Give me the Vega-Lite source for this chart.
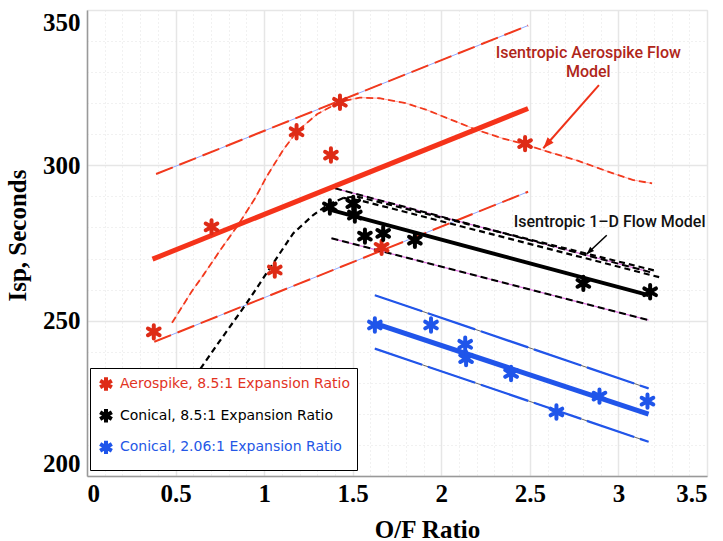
{
  "$schema": "https://vega.github.io/schema/vega-lite/v6.json",
  "width": 620,
  "height": 466,
  "autosize": {"type": "none"},
  "padding": {"left": 87, "top": 10, "right": 16, "bottom": 65},
  "background": "white",
  "config": {
    "view": {"stroke": "#e2e2e2", "strokeWidth": 1}
  },
  "datasets": {
    "pts": [
      {"series": "Aerospike, 8.5:1 Expansion Ratio", "of": 0.377, "isp": 246.4},
      {"series": "Aerospike, 8.5:1 Expansion Ratio", "of": 0.703, "isp": 280.2},
      {"series": "Aerospike, 8.5:1 Expansion Ratio", "of": 1.06, "isp": 266.3},
      {"series": "Aerospike, 8.5:1 Expansion Ratio", "of": 1.183, "isp": 310.8},
      {"series": "Aerospike, 8.5:1 Expansion Ratio", "of": 1.377, "isp": 303.3},
      {"series": "Aerospike, 8.5:1 Expansion Ratio", "of": 1.428, "isp": 320.3},
      {"series": "Aerospike, 8.5:1 Expansion Ratio", "of": 1.663, "isp": 273.6},
      {"series": "Aerospike, 8.5:1 Expansion Ratio", "of": 2.473, "isp": 307.0},
      {"series": "Conical, 8.5:1 Expansion Ratio", "of": 1.371, "isp": 286.6},
      {"series": "Conical, 8.5:1 Expansion Ratio", "of": 1.503, "isp": 287.7},
      {"series": "Conical, 8.5:1 Expansion Ratio", "of": 1.512, "isp": 284.0},
      {"series": "Conical, 8.5:1 Expansion Ratio", "of": 1.569, "isp": 277.2},
      {"series": "Conical, 8.5:1 Expansion Ratio", "of": 1.672, "isp": 278.1},
      {"series": "Conical, 8.5:1 Expansion Ratio", "of": 1.851, "isp": 275.9},
      {"series": "Conical, 8.5:1 Expansion Ratio", "of": 2.802, "isp": 262.0},
      {"series": "Conical, 8.5:1 Expansion Ratio", "of": 3.179, "isp": 259.3},
      {"series": "Conical, 2.06:1 Expansion Ratio", "of": 1.625, "isp": 248.6},
      {"series": "Conical, 2.06:1 Expansion Ratio", "of": 1.942, "isp": 248.6},
      {"series": "Conical, 2.06:1 Expansion Ratio", "of": 2.135, "isp": 242.4},
      {"series": "Conical, 2.06:1 Expansion Ratio", "of": 2.14, "isp": 237.8},
      {"series": "Conical, 2.06:1 Expansion Ratio", "of": 2.394, "isp": 233.0},
      {"series": "Conical, 2.06:1 Expansion Ratio", "of": 2.65, "isp": 220.6},
      {"series": "Conical, 2.06:1 Expansion Ratio", "of": 2.893, "isp": 225.7},
      {"series": "Conical, 2.06:1 Expansion Ratio", "of": 3.164, "isp": 224.1}
    ],
    "lines": [
      {"id": "aero_fit", "of": 0.37, "isp": 269.8},
      {"id": "aero_fit", "of": 2.49, "isp": 318.3},
      {"id": "aero_up", "of": 0.39, "isp": 297.2},
      {"id": "aero_up", "of": 2.49, "isp": 345.0},
      {"id": "aero_lo", "of": 0.38, "isp": 243.2},
      {"id": "aero_lo", "of": 2.49, "isp": 291.5},
      {"id": "c85_fit", "of": 1.38, "isp": 285.6},
      {"id": "c85_fit", "of": 3.17, "isp": 258.2},
      {"id": "c85_up", "of": 1.40, "isp": 292.6},
      {"id": "c85_up", "of": 3.18, "isp": 265.6},
      {"id": "c85_lo", "of": 1.38, "isp": 276.5},
      {"id": "c85_lo", "of": 3.17, "isp": 250.2},
      {"id": "c206_fit", "of": 1.625, "isp": 249.1},
      {"id": "c206_fit", "of": 3.17, "isp": 219.9},
      {"id": "c206_up", "of": 1.625, "isp": 258.2},
      {"id": "c206_up", "of": 3.17, "isp": 228.2},
      {"id": "c206_lo", "of": 1.625, "isp": 241.0},
      {"id": "c206_lo", "of": 3.17, "isp": 211.0},
      {"id": "aero_model", "of": 0.48, "isp": 249.3},
      {"id": "aero_model", "of": 0.59, "isp": 259.3},
      {"id": "aero_model", "of": 0.655, "isp": 264.5},
      {"id": "aero_model", "of": 0.75, "isp": 272.5},
      {"id": "aero_model", "of": 0.853, "isp": 280.8},
      {"id": "aero_model", "of": 0.95, "isp": 289.5},
      {"id": "aero_model", "of": 1.013, "isp": 296.3},
      {"id": "aero_model", "of": 1.107, "isp": 304.9},
      {"id": "aero_model", "of": 1.183, "isp": 310.8},
      {"id": "aero_model", "of": 1.3, "isp": 316.5},
      {"id": "aero_model", "of": 1.43, "isp": 320.5},
      {"id": "aero_model", "of": 1.54, "isp": 321.8},
      {"id": "aero_model", "of": 1.65, "isp": 321.6},
      {"id": "aero_model", "of": 1.8, "isp": 320.0},
      {"id": "aero_model", "of": 1.92, "isp": 317.8},
      {"id": "aero_model", "of": 2.05, "isp": 314.8},
      {"id": "aero_model", "of": 2.2, "isp": 311.4},
      {"id": "aero_model", "of": 2.35, "isp": 308.6},
      {"id": "aero_model", "of": 2.47, "isp": 306.8},
      {"id": "aero_model", "of": 2.6, "isp": 304.4},
      {"id": "aero_model", "of": 2.77, "isp": 301.5},
      {"id": "aero_model", "of": 2.97, "isp": 297.4},
      {"id": "aero_model", "of": 3.08, "isp": 295.3},
      {"id": "aero_model", "of": 3.19, "isp": 294.2},
      {"id": "cone_model1", "of": 0.64, "isp": 234.5},
      {"id": "cone_model1", "of": 0.75, "isp": 243.5},
      {"id": "cone_model1", "of": 0.9, "isp": 255.5},
      {"id": "cone_model1", "of": 1.05, "isp": 268.4},
      {"id": "cone_model1", "of": 1.164, "isp": 278.1},
      {"id": "cone_model1", "of": 1.277, "isp": 284.0},
      {"id": "cone_model1", "of": 1.36, "isp": 287.3},
      {"id": "cone_model1", "of": 1.446, "isp": 289.5},
      {"id": "cone_model1", "of": 1.52, "isp": 290.0},
      {"id": "cone_model1", "of": 3.2, "isp": 266.2},
      {"id": "cone_model2", "of": 1.446, "isp": 289.5},
      {"id": "cone_model2", "of": 1.55, "isp": 288.6},
      {"id": "cone_model2", "of": 3.23, "isp": 264.0}
    ],
    "notes": [
      {"kind": "aero", "label": "Isentropic Aerospike Flow\nModel", "of": 2.83, "isp": 334.4},
      {"kind": "cone", "label": "Isentropic 1–D Flow Model", "of": 2.95, "isp": 280.2}
    ],
    "arrows": [
      {"kind": "aero", "of": 2.89, "isp": 325.8, "of2": 2.576, "isp2": 305.5},
      {"kind": "cone", "of": 2.934, "isp": 277.5, "of2": 2.82, "isp2": 271.4}
    ]
  },
  "encoding": {
    "x": {
      "field": "of", "type": "quantitative",
      "scale": {"domain": [0, 3.5], "nice": false, "zero": false},
      "axis": {
        "title": "O/F Ratio",
        "values": [0,0.1,0.2,0.3,0.4,0.5,0.6,0.7,0.8,0.9,1,1.1,1.2,1.3,1.4,1.5,1.6,1.7,1.8,1.9,2,2.1,2.2,2.3,2.4,2.5,2.6,2.7,2.8,2.9,3,3.1,3.2,3.3,3.4,3.5],
        "format": "~g",
        "labelExpr": "abs(datum.value*2-round(datum.value*2))<0.001 ? datum.label : ''",
        "labelOverlap": false,
        "labelFont": "Liberation Serif", "labelFontWeight": "bold", "labelFontSize": 25, "labelColor": "black",
        "labelPadding": 5,
        "ticks": false,
        "domainColor": "#999999", "domainWidth": 1.5,
        "grid": true,
        "gridColor": {"condition": {"test": "abs(datum.value*2-round(datum.value*2))<0.001", "value": "#e6e6e6"}, "value": "#e2e2e2"},
        "gridDash": {"condition": {"test": "abs(datum.value*2-round(datum.value*2))<0.001", "value": []}, "value": [1, 3]},
        "gridWidth": {"condition": {"test": "abs(datum.value*2-round(datum.value*2))<0.001", "value": 1.5}, "value": 1},
        "titleFont": "Liberation Serif", "titleFontWeight": "bold", "titleFontSize": 25, "titleColor": "black",
        "titleX": 340, "titleY": 61, "titleBaseline": "alphabetic", "titleAlign": "center"
      }
    },
    "y": {
      "field": "isp", "type": "quantitative",
      "scale": {"domain": [200, 350], "nice": false, "zero": false},
      "axis": {
        "title": "Isp, Seconds",
        "values": [200,210,220,230,240,250,260,270,280,290,300,310,320,330,340,350],
        "labelExpr": "datum.value % 50 === 0 ? datum.label : ''",
        "labelOverlap": false,
        "labelFlush": true,
        "labelFont": "Liberation Serif", "labelFontWeight": "bold", "labelFontSize": 25, "labelColor": "black",
        "labelPadding": 7,
        "ticks": false,
        "domainColor": "#999999", "domainWidth": 1.5,
        "grid": true,
        "gridColor": {"condition": {"test": "datum.value % 50 === 0", "value": "#e6e6e6"}, "value": "#e2e2e2"},
        "gridDash": {"condition": {"test": "datum.value % 50 === 0", "value": []}, "value": [1, 3]},
        "gridWidth": {"condition": {"test": "datum.value % 50 === 0", "value": 1.5}, "value": 1},
        "titleFont": "Liberation Serif", "titleFontWeight": "bold", "titleFontSize": 25, "titleColor": "black",
        "titleX": -62, "titleY": 225, "titleAngle": 270, "titleBaseline": "alphabetic", "titleAlign": "center"
      }
    }
  },
  "layer": [
    {
      "data": {"name": "lines"},
      "transform": [{"filter": {"field": "id", "oneOf": ["aero_up", "aero_lo"]}}],
      "mark": {"type": "line", "color": "#8fa6ff", "strokeWidth": 1},
      "encoding": {"detail": {"field": "id"}}
    },
    {
      "data": {"name": "lines"},
      "transform": [{"filter": {"field": "id", "oneOf": ["aero_up", "aero_lo"]}}],
      "mark": {"type": "line", "color": "#f2391c", "strokeWidth": 2, "strokeDash": [18, 7]},
      "encoding": {"detail": {"field": "id"}}
    },
    {
      "data": {"name": "lines"},
      "transform": [{"filter": {"field": "id", "oneOf": ["c85_up", "c85_lo"]}}],
      "mark": {"type": "line", "color": "#e070e0", "strokeWidth": 1.2},
      "encoding": {"detail": {"field": "id"}}
    },
    {
      "data": {"name": "lines"},
      "transform": [{"filter": {"field": "id", "oneOf": ["c85_up", "c85_lo"]}}],
      "mark": {"type": "line", "color": "#000000", "strokeWidth": 2, "strokeDash": [7, 4]},
      "encoding": {"detail": {"field": "id"}}
    },
    {
      "data": {"name": "lines"},
      "transform": [{"filter": {"field": "id", "oneOf": ["c206_up", "c206_lo"]}}],
      "mark": {"type": "line", "color": "#666666", "strokeWidth": 1},
      "encoding": {"detail": {"field": "id"}}
    },
    {
      "data": {"name": "lines"},
      "transform": [{"filter": {"field": "id", "oneOf": ["c206_up", "c206_lo"]}}],
      "mark": {"type": "line", "color": "#2155ea", "strokeWidth": 2.2, "strokeDash": [50, 6]},
      "encoding": {"detail": {"field": "id"}}
    },
    {
      "data": {"name": "lines"},
      "transform": [{"filter": {"field": "id", "equal": "aero_model"}}],
      "mark": {"type": "line", "color": "#ffb0b0", "strokeWidth": 1},
      "encoding": {}
    },
    {
      "data": {"name": "lines"},
      "transform": [{"filter": {"field": "id", "equal": "aero_model"}}],
      "mark": {"type": "line", "color": "#f2391c", "strokeWidth": 1.8, "strokeDash": [7, 4]},
      "encoding": {}
    },
    {
      "data": {"name": "lines"},
      "transform": [{"filter": {"field": "id", "oneOf": ["cone_model1", "cone_model2"]}}],
      "mark": {"type": "line", "color": "#000000", "strokeWidth": 2.2, "strokeDash": [6, 4]},
      "encoding": {"detail": {"field": "id"}}
    },
    {
      "data": {"name": "lines"},
      "transform": [{"filter": {"field": "id", "equal": "aero_fit"}}],
      "mark": {"type": "line", "color": "#f5331a", "strokeWidth": 5},
      "encoding": {}
    },
    {
      "data": {"name": "lines"},
      "transform": [{"filter": {"field": "id", "equal": "c85_fit"}}],
      "mark": {"type": "line", "color": "#000000", "strokeWidth": 4},
      "encoding": {}
    },
    {
      "data": {"name": "lines"},
      "transform": [{"filter": {"field": "id", "equal": "c206_fit"}}],
      "mark": {"type": "line", "color": "#2155ea", "strokeWidth": 5},
      "encoding": {}
    },
    {
      "data": {"name": "pts"},
      "mark": {"type": "point", "shape": "M0,-1L0,1M-0.87,-0.5L0.87,0.5M-0.87,0.5L0.87,-0.5", "filled": false, "strokeWidth": 4, "strokeCap": "round", "size": 180, "opacity": 1},
      "encoding": {
        "color": {
          "field": "series", "type": "nominal",
          "scale": {
            "domain": ["Aerospike, 8.5:1 Expansion Ratio", "Conical, 8.5:1 Expansion Ratio", "Conical, 2.06:1 Expansion Ratio"],
            "range": ["#de2b16", "#000000", "#1f55ea"]
          },
          "legend": {
            "title": null,
            "orient": "none",
            "legendX": 3,
            "legendY": 358,
            "direction": "vertical",
            "fillColor": "white",
            "strokeColor": "black",
            "padding": 7,
            "rowPadding": 1.7,
            "symbolType": "M0,-1L0,1M-0.87,-0.5L0.87,0.5M-0.87,0.5L0.87,-0.5",
            "symbolSize": 180,
            "symbolStrokeWidth": 4,
            "labelFont": "DejaVu Sans",
            "labelFontSize": 14,
            "labelOffset": 5,
            "labelLimit": 400,
            "labelColor": {"expr": "datum.value === 'Aerospike, 8.5:1 Expansion Ratio' ? '#e2331f' : (datum.value === 'Conical, 2.06:1 Expansion Ratio' ? '#2457e6' : '#000000')"},
            "encode": {
              "legend": {"strokeWidth": {"value": 2}}
            }
          }
        }
      }
    },
    {
      "data": {"name": "arrows"},
      "transform": [{"filter": {"field": "kind", "equal": "aero"}}],
      "mark": {"type": "rule", "color": "#ee3219", "strokeWidth": 2},
      "encoding": {"x2": {"field": "of2"}, "y2": {"field": "isp2"}}
    },
    {
      "data": {"name": "arrows"},
      "transform": [{"filter": {"field": "kind", "equal": "aero"}}],
      "mark": {"type": "point", "shape": "M0,0L0.8,2.2L-0.8,2.2Z", "filled": true, "color": "#ee3219", "opacity": 1, "size": 100, "angle": 221.5},
      "encoding": {"x": {"field": "of2", "type": "quantitative"}, "y": {"field": "isp2", "type": "quantitative"}}
    },
    {
      "data": {"name": "arrows"},
      "transform": [{"filter": {"field": "kind", "equal": "cone"}}],
      "mark": {"type": "rule", "color": "#000000", "strokeWidth": 1.5},
      "encoding": {"x2": {"field": "of2"}, "y2": {"field": "isp2"}}
    },
    {
      "data": {"name": "arrows"},
      "transform": [{"filter": {"field": "kind", "equal": "cone"}}],
      "mark": {"type": "point", "shape": "M0,0L0.8,2.2L-0.8,2.2Z", "filled": true, "color": "#000000", "opacity": 1, "size": 49, "angle": 226.5},
      "encoding": {"x": {"field": "of2", "type": "quantitative"}, "y": {"field": "isp2", "type": "quantitative"}}
    },
    {
      "data": {"name": "notes"},
      "transform": [{"filter": {"field": "kind", "equal": "aero"}}],
      "mark": {"type": "text", "font": "Roboto", "fontWeight": 500, "fontSize": 16, "color": "#b0261a", "align": "center", "baseline": "alphabetic", "lineBreak": "\n", "lineHeight": 18.5},
      "encoding": {"text": {"field": "label"}}
    },
    {
      "data": {"name": "notes"},
      "transform": [{"filter": {"field": "kind", "equal": "cone"}}],
      "mark": {"type": "text", "font": "Roboto", "fontWeight": 500, "fontSize": 16, "color": "#111111", "align": "center", "baseline": "alphabetic"},
      "encoding": {"text": {"field": "label"}}
    }
  ]
}
